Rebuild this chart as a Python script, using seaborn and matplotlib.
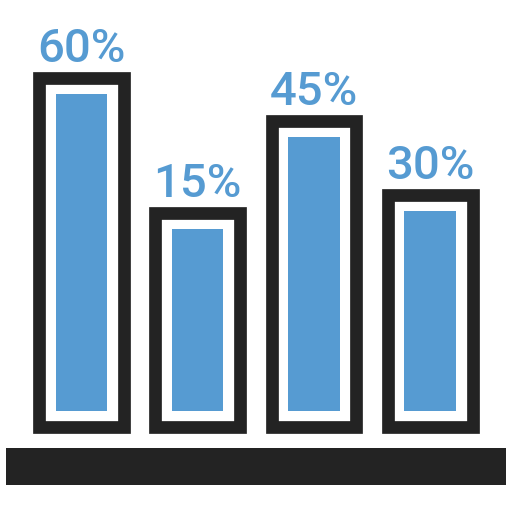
import matplotlib
matplotlib.use("Agg")
import matplotlib.pyplot as plt
import seaborn as sns
import numpy as np
from matplotlib.patches import Rectangle

# data
categories = ["A", "B", "C", "D"]
labels = ["60%", "15%", "45%", "30%"]
heights = [362, 227, 319, 245]   # outer frame height of each bar

BLUE = "#569bd2"
DARK = "#232323"

sns.set_theme(style="white")
plt.rcParams['font.family'] = ['Roboto', 'DejaVu Sans']

fig = plt.figure(figsize=(5.12, 5.12), dpi=100)
ax = fig.add_axes([0, 0, 1, 1])

h = np.array(heights, dtype=float)
border = 12.7
pitch = 116.3
lw = border * 72 / 100

# frame (white box with thick dark edge)
ax.bar(np.arange(len(h)), h - border, bottom=border / 2,
       width=(97.5 - border) / pitch, color="white", edgecolor=DARK,
       linewidth=lw, joinstyle="miter", zorder=1)

# blue fill
sns.barplot(x=categories, y=h - 45.6, bottom=22.6, width=51.6 / pitch,
            color=BLUE, saturation=1, linewidth=0, ax=ax, zorder=2)

for i, (hh, lab) in enumerate(zip(h, labels)):
    ax.text(i, hh + 9.5, lab, ha="center", va="baseline",
            fontsize=34, fontweight="medium", color=BLUE, zorder=3)

# ground bar
ax.add_patch(Rectangle((-0.647, -51.4), 4.299, 36.7, color=DARK, lw=0, zorder=1))

ax.set_xlim(-81.3 / pitch, 3 + (512 - 430.3) / pitch)
ax.set_ylim(-78.7, 433.3)
ax.axis("off")

fig.savefig("out.png", dpi=100)
